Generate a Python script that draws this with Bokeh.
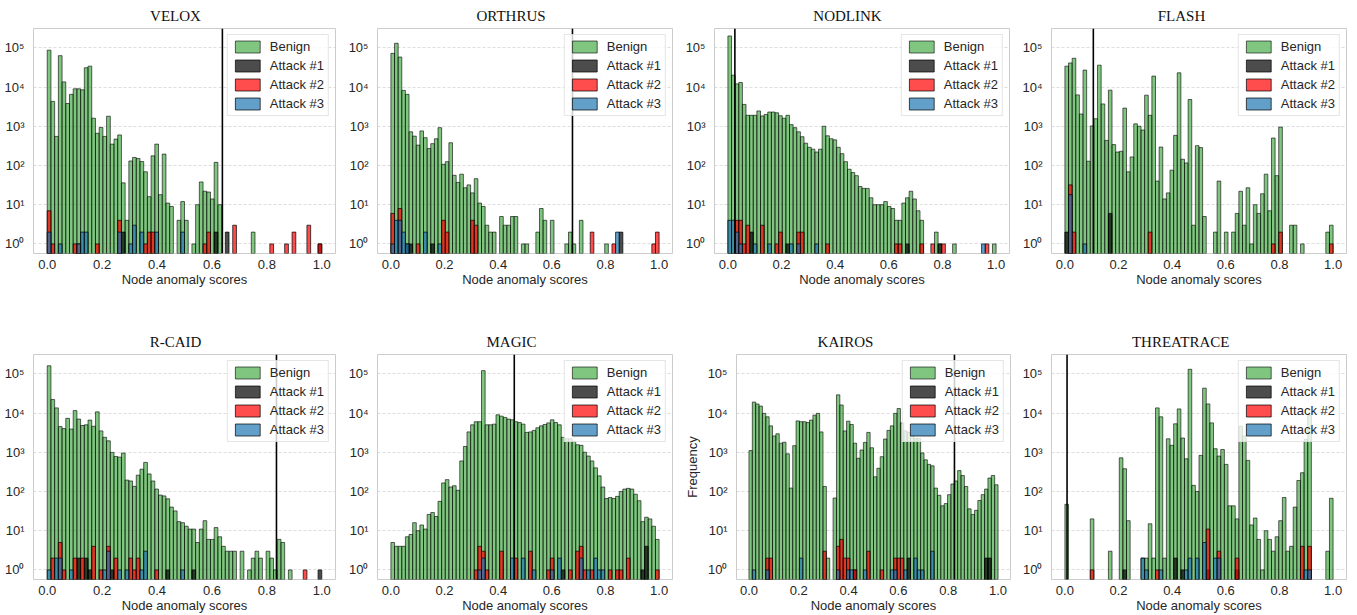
import numpy as np
from bokeh.plotting import figure
from bokeh.layouts import row, column
from bokeh.models import (ColumnDataSource, Span, FixedTicker, CustomJSTickFormatter,
                          PrintfTickFormatter, Range1d)
from bokeh.embed import file_html
from bokeh.resources import INLINE

# ---------------------------------------------------------------- data
N_BINS = 74
X_TICKS = [0.0, 0.2, 0.4, 0.6, 0.8, 1.0]
Y_TICKS = [1, 10, 100, 1000, 10000, 100000]
SERIES = ["Benign", "Attack #1", "Attack #2", "Attack #3"]
TITLES = ["Velox", "Orthrus", "NodLink", "Flash", "R-Caid", "Magic", "Kairos", "Threatrace"]
THRESHOLDS = [0.638, 0.677, 0.026, 0.106, 0.835, 0.46, 0.825, 0.008]

VELOX_BENIGN = [87000, 4300, 550, 63000, 13500, 3800, 6500, 9000, 9000, 8500,
                31000, 34000, 1600, 660, 930, 550, 1800, 350, 470, 600,
                36, 4, 130, 160, 150, 126, 69, 16, 176, 350,
                18, 195, 11, 9, 0, 4, 12, 4, 0, 1,
                10, 38, 22, 21, 14, 120, 10, 0, 0, 0,
                0, 0, 0, 0, 0, 2, 0, 0, 0, 0,
                0, 0, 0, 0, 0, 0, 0, 0, 0, 0,
                0, 0, 0, 0]
VELOX_A1 = {20: 2, 45: 2, 48: 2, 73: 1}
VELOX_A2 = {0: 7, 1: 1, 7: 1, 8: 1, 13: 1, 19: 4, 26: 1, 27: 2, 28: 2, 42: 1, 43: 2,
            50: 3, 60: 1, 64: 1, 66: 2, 70: 3, 73: 1}
VELOX_A3 = {0: 2, 3: 1, 8: 1, 9: 2, 10: 2, 19: 2, 22: 1, 23: 3, 25: 2, 29: 2, 36: 2}

ORTHRUS_BENIGN = [72000, 130000, 58000, 8200, 6500, 720, 560, 330, 760, 510,
                  270, 360, 480, 920, 107, 125, 380, 56, 37, 60,
                  27, 32, 20, 46, 11, 9, 3, 2, 2, 0,
                  5, 3, 3, 5, 5, 0, 1, 1, 0, 0,
                  2, 8, 4, 0, 4, 0, 0, 0, 1, 2,
                  1, 0, 4, 0, 0, 0, 0, 0, 0, 1,
                  0, 0, 0, 0, 0, 0, 0, 0, 0, 0,
                  0, 0, 0, 0]
ORTHRUS_A1 = {4: 1, 5: 1, 11: 1, 63: 2}
ORTHRUS_A2 = {0: 6, 2: 8, 7: 1, 14: 4, 15: 2, 22: 4, 23: 3, 55: 2, 61: 1, 72: 1, 73: 2}
ORTHRUS_A3 = {0: 1, 1: 4, 2: 4, 3: 2, 4: 1, 9: 2, 13: 1, 62: 2}

NODLINK_BENIGN = [200000, 20000, 12000, 13000, 3600, 1900, 1900, 1900, 2450, 1830,
                  2000, 2300, 2300, 2200, 1850, 1600, 1900, 1100, 920, 720,
                  540, 370, 290, 260, 220, 260, 1000, 570, 480, 450,
                  290, 200, 125, 80, 66, 55, 29, 26, 26, 15,
                  10, 10, 10, 12, 9, 8, 4, 4, 11, 15,
                  22, 14, 7, 4, 0, 0, 0, 2, 1, 0,
                  0, 0, 1, 0, 0, 0, 0, 0, 0, 0,
                  0, 0, 0, 1]
NODLINK_A1 = {6: 2, 16: 1, 49: 1, 58: 1}
NODLINK_A2 = {2: 4, 3: 4, 4: 1, 5: 3, 9: 3, 13: 1, 14: 2, 19: 2, 20: 2, 27: 1,
              46: 1, 47: 1, 53: 1, 56: 1, 59: 1, 71: 1}
NODLINK_A3 = {0: 4, 1: 4, 2: 2, 3: 1, 7: 1, 11: 1, 17: 1, 19: 1, 24: 1, 70: 1}

FLASH_BENIGN = [34000, 41000, 54000, 6300, 2050, 27000, 128, 1020, 1550, 36000,
                3700, 435, 8300, 340, 220, 230, 2900, 69, 165, 1150,
                1000, 800, 6200, 1900, 19000, 40, 295, 14, 20, 76,
                585, 23000, 144, 116, 4800, 3, 320, 285, 5, 0,
                0, 2, 40, 0, 2, 0, 2, 6, 22, 3,
                27, 1, 10, 6, 19, 60, 7, 500, 55, 950,
                0, 0, 3, 3, 0, 1, 0, 0, 0, 0,
                0, 0, 2, 3]
FLASH_A1 = {0: 2, 12: 6}
FLASH_A2 = {1: 32, 2: 2, 23: 2, 57: 1, 59: 2, 73: 1}
FLASH_A3 = {1: 18, 5: 1}

RCAID_BENIGN = [160000, 22000, 13500, 4500, 4000, 7300, 3900, 11500, 7000, 4800,
                5000, 6600, 4600, 10700, 3500, 2400, 1950, 990, 780, 750,
                950, 195, 185, 135, 260, 370, 550, 280, 185, 115,
                81, 77, 65, 40, 32, 17, 16, 13, 11, 11,
                5, 11, 18, 6, 6, 12, 7, 4, 3, 3,
                3, 0, 3, 0, 1, 2, 3, 2, 0, 3,
                2, 1, 6, 5, 0, 1, 0, 0, 0, 0,
                0, 0, 0, 0]
RCAID_A1 = {8: 2, 10: 2, 11: 1, 17: 1, 32: 1, 39: 1, 73: 1}
RCAID_A2 = {1: 2, 3: 5, 4: 1, 7: 2, 9: 2, 12: 4, 14: 1, 16: 4, 18: 2, 22: 2, 23: 1,
            24: 2, 29: 1, 69: 1}
RCAID_A3 = {0: 1, 2: 2, 3: 2, 6: 1, 15: 1, 16: 3, 19: 1, 21: 1, 25: 1, 26: 3, 36: 1}

MAGIC_BENIGN = [5, 4, 4, 4, 7, 8, 16, 10, 14, 11,
                26, 29, 23, 56, 165, 200, 130, 140, 107, 600,
                1400, 3300, 5000, 6000, 6000, 120000, 5000, 5000, 5200, 9000,
                8300, 7700, 7000, 6700, 6000, 5700, 5200, 3200, 3300, 3600,
                4200, 4700, 5100, 5600, 6700, 5700, 5000, 2400, 2200, 2200,
                1900, 1550, 1500, 1000, 800, 600, 400, 250, 130, 66,
                70, 66, 75, 100, 115, 120, 115, 85, 58, 17,
                22, 20, 13, 6]
MAGIC_A1 = {47: 1, 69: 1, 70: 4}
MAGIC_A2 = {23: 1, 24: 4, 25: 3, 26: 1, 30: 3, 34: 2, 38: 3, 43: 1, 44: 2, 49: 1,
            51: 3, 52: 4, 53: 1, 55: 1, 60: 1, 62: 1, 63: 1, 65: 2, 73: 1}
MAGIC_A3 = {24: 1, 25: 2, 33: 2, 36: 2, 39: 1, 44: 1, 46: 2, 52: 2, 54: 1, 56: 2,
            57: 1, 58: 1}

KAIROS_BENIGN = [1100, 19000, 17000, 15000, 9800, 8000, 4700, 2600, 2950, 1700,
                 1800, 910, 122, 1470, 6300, 6000, 6000, 5700, 6600, 8800,
                 9800, 3300, 134, 2, 0, 68, 29000, 16000, 3500, 6200,
                 5100, 1700, 700, 1140, 1780, 3200, 1300, 236, 390, 770,
                 2170, 3600, 4700, 9800, 13000, 5600, 3500, 3200, 2700, 2250,
                 2250, 960, 640, 490, 450, 122, 80, 43, 49, 83,
                 155, 185, 340, 255, 134, 36, 26, 33, 59, 83,
                 115, 220, 255, 148]
KAIROS_A1 = {31: 1, 47: 2, 70: 2, 71: 2}
KAIROS_A2 = {5: 2, 6: 2, 22: 3, 26: 4, 27: 6, 28: 2, 29: 2, 31: 1, 35: 3, 39: 1,
             43: 2, 44: 2, 45: 2}
KAIROS_A3 = {1: 1, 5: 1, 15: 2, 26: 1, 29: 1, 30: 1, 34: 1, 42: 1, 43: 1, 46: 1,
             49: 2, 50: 1, 51: 1, 54: 3}

THREATRACE_BENIGN = [47, 0, 0, 0, 0, 0, 0, 20, 0, 0,
                     0, 0, 3, 0, 0, 720, 380, 18, 0, 0,
                     0, 2, 2, 15, 2, 13500, 8000, 2, 2200, 1500,
                     5300, 12700, 2300, 680, 130000, 143, 100, 830, 43000, 17000,
                     5600, 1230, 800, 1170, 490, 43, 43, 20, 4600, 2600,
                     620, 14, 21, 6, 1, 10, 6, 3, 7, 18,
                     70, 3, 4, 40, 190, 300, 2100, 9000, 0, 0,
                     0, 0, 3, 67]
THREATRACE_A1 = {16: 1, 30: 2, 32: 1, 39: 1, 47: 1}
THREATRACE_A2 = {7: 1, 25: 1, 39: 11, 42: 3, 47: 2, 65: 4, 67: 4}
THREATRACE_A3 = {21: 2, 22: 1, 26: 1, 33: 1, 34: 2, 36: 2, 38: 5, 41: 2, 42: 2,
                 66: 1, 67: 1}

PANELS = [
    (VELOX_BENIGN, VELOX_A1, VELOX_A2, VELOX_A3),
    (ORTHRUS_BENIGN, ORTHRUS_A1, ORTHRUS_A2, ORTHRUS_A3),
    (NODLINK_BENIGN, NODLINK_A1, NODLINK_A2, NODLINK_A3),
    (FLASH_BENIGN, FLASH_A1, FLASH_A2, FLASH_A3),
    (RCAID_BENIGN, RCAID_A1, RCAID_A2, RCAID_A3),
    (MAGIC_BENIGN, MAGIC_A1, MAGIC_A2, MAGIC_A3),
    (KAIROS_BENIGN, KAIROS_A1, KAIROS_A2, KAIROS_A3),
    (THREATRACE_BENIGN, THREATRACE_A1, THREATRACE_A2, THREATRACE_A3),
]

# ---------------------------------------------------------------- helpers
EDGES = np.linspace(0.0, 1.0, N_BINS + 1)
CENTERS = (EDGES[:-1] + EDGES[1:]) / 2.0
BIN_W = EDGES[1] - EDGES[0]

COLORS = ["#2ca02c", "#000000", "#ff0000", "#1f77b4"]
ALPHAS = [0.6, 0.7, 0.7, 0.7]

TXT = "#262626"
SANS = "Liberation Sans"
SERIF = "Liberation Serif"

# Times-compatible cap widths, for centring the titles
CAPW = {'A': .722, 'C': .667, 'D': .722, 'E': .611, 'F': .556, 'G': .722, 'H': .722,
        'I': .333, 'K': .722, 'L': .611, 'M': .889, 'N': .722, 'O': .722, 'R': .667,
        'S': .556, 'T': .611, 'U': .722, 'V': .722, 'X': .722, '-': .333}
TITLE_PX = 15


def dense(d):
    out = [0] * N_BINS
    for k, v in d.items():
        out[k] = v
    return out


SUP = ("{'0':'\\u2070','1':'\\u00b9','2':'\\u00b2','3':'\\u00b3','4':'\\u2074',"
       "'5':'\\u2075','6':'\\u2076','7':'\\u2077','8':'\\u2078','9':'\\u2079','-':'\\u207b'}")
LOG_FMT = ("const s = " + SUP + ";\n"
           "const e = Math.round(Math.log10(tick));\n"
           "return '10' + String(e).split('').map(c => s[c]).join('');")


def make_panel(k, width, height, bl, br, bt, bb, title_center, ylabel=None):
    benign, a1, a2, a3 = PANELS[k]
    vals_all = [benign, dense(a1), dense(a2), dense(a3)]
    p = figure(width=width, height=height,
               x_range=Range1d(-0.05, 1.05), y_range=Range1d(0.57, 3.1e5),
               y_axis_type="log", output_backend="svg", toolbar_location=None,
               min_border_left=bl, min_border_right=br,
               min_border_top=bt, min_border_bottom=bb)
    p.background_fill_color = "white"
    p.border_fill_color = "white"
    p.outline_line_color = "#cccccc"
    p.outline_line_width = 1

    for label, vals, col, a in zip(SERIES, vals_all, COLORS, ALPHAS):
        v = np.asarray(vals, dtype=float)
        m = v > 0
        src = ColumnDataSource(dict(x=CENTERS[m], top=v[m],
                                    bottom=np.full(int(m.sum()), 0.1)))
        p.vbar(x="x", top="top", bottom="bottom", width=BIN_W, source=src,
               fill_color=col, fill_alpha=a, line_color="black", line_alpha=a,
               line_width=1, legend_label=label)

    # axes
    yt = FixedTicker(ticks=Y_TICKS, minor_ticks=[])
    p.yaxis.ticker = yt
    p.ygrid.ticker = yt
    p.yaxis.formatter = CustomJSTickFormatter(code=LOG_FMT)
    p.xaxis.ticker = FixedTicker(ticks=X_TICKS, minor_ticks=[])
    p.xaxis.formatter = PrintfTickFormatter(format="%.1f")
    for ax in (p.xaxis, p.yaxis):
        ax.axis_line_color = None
        ax.major_tick_line_color = None
        ax.minor_tick_line_color = None
        ax.major_label_text_font = SANS
        ax.major_label_text_font_size = "13px"
        ax.major_label_text_color = TXT
        ax.axis_label_text_font = SANS
        ax.axis_label_text_font_size = "13px"
        ax.axis_label_text_font_style = "normal"
        ax.axis_label_text_color = TXT
    p.yaxis.major_label_standoff = 3
    p.xaxis.major_label_standoff = 0
    p.xaxis.axis_label = "Node anomaly scores"
    p.xaxis.axis_label_standoff = 0
    if ylabel:
        p.yaxis.axis_label = ylabel
        p.yaxis.axis_label_standoff = 4

    p.xgrid.visible = False
    p.ygrid.grid_line_color = "#d4d4d4"
    p.ygrid.grid_line_dash = "3 2"
    p.ygrid.grid_line_width = 0.8

    # title (small-caps look approximated with capitals)
    t = TITLES[k].upper()
    tw = sum(CAPW.get(c, .7) for c in t) * TITLE_PX
    p.title.text = t
    p.title.text_font = SERIF
    p.title.text_font_size = f"{TITLE_PX}px"
    p.title.text_font_style = "normal"
    p.title.text_color = "#111111"
    p.title.align = "left"
    p.title.offset = title_center - tw / 2.0
    p.title.standoff = 10

    # legend
    lg = p.legend[0]
    lg.location = "top_right"
    lg.margin = 6
    lg.padding = 4
    lg.spacing = 4
    lg.glyph_width = 31
    lg.glyph_height = 15
    lg.label_height = 15
    lg.label_standoff = 7
    lg.label_text_font = SANS
    lg.label_text_font_size = "13px"
    lg.label_text_color = TXT
    lg.background_fill_color = "white"
    lg.background_fill_alpha = 0.8
    lg.border_line_color = "#cccccc"
    lg.border_line_width = 1

    # threshold line
    p.add_layout(Span(location=THRESHOLDS[k], dimension="height",
                      line_color="black", line_width=1.6))
    return p


TITLE_CENTERS = [142, 134, 133, 130]
LEFTS = [33, 25, 25, 25]
row1 = []
row2 = []
for c in range(4):
    w = 345 if c == 0 else 337
    row1.append(make_panel(c, w, 326, LEFTS[c], 10, 27, 73, TITLE_CENTERS[c]))
for c in range(4):
    k = 4 + c
    w = 345 if c == 0 else 337
    if k == 6:
        row2.append(make_panel(k, w, 289, 43, 9, 27, 35, TITLE_CENTERS[c] - 24,
                               ylabel="Frequency"))
    else:
        row2.append(make_panel(k, w, 289, LEFTS[c], 10, 27, 35, TITLE_CENTERS[c]))

layout = column(row(*row1, spacing=0), row(*row2, spacing=0), spacing=0)

open("out.html", "w").write(file_html(layout, INLINE))
